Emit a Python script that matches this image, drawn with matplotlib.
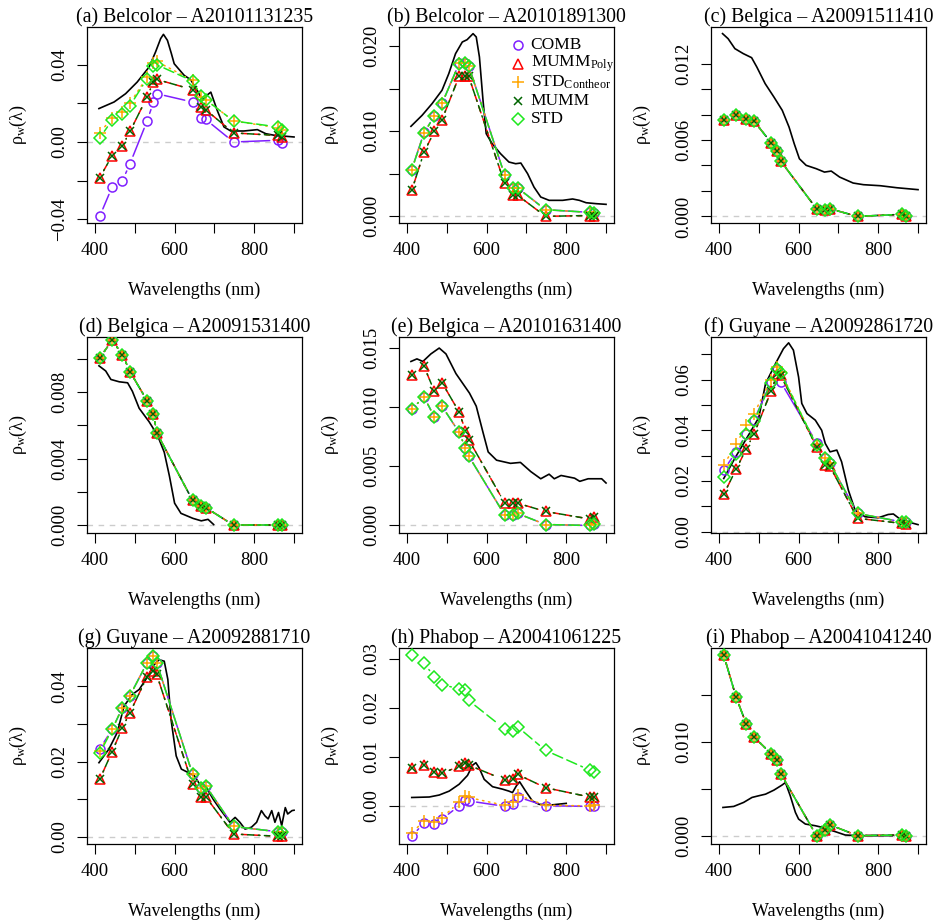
import numpy as np
import matplotlib
matplotlib.use("Agg")
import matplotlib.pyplot as plt
from matplotlib.collections import LineCollection

plt.rcParams['font.family'] = ['Liberation Serif', 'DejaVu Serif']
plt.rcParams['mathtext.fontset'] = 'custom'
plt.rcParams['mathtext.rm'] = 'Liberation Serif'
plt.rcParams['mathtext.it'] = 'Liberation Serif:italic'

# MODIS bands (nm)
wl = [412, 443, 469, 488, 531, 547, 555, 645, 667, 678, 748, 859, 869]

names = ["COMB", "MUMM$_{\\mathrm{Poly}}$", "STD$_{\\mathrm{Contheor}}$", "MUMM", "STD"]
titles = ["(a) Belcolor \u2013 A20101131235", "(b) Belcolor \u2013 A20101891300",
          "(c) Belgica \u2013 A20091511410", "(d) Belgica \u2013 A20091531400",
          "(e) Belgica \u2013 A20101631400", "(f) Guyane \u2013 A20092861720",
          "(g) Guyane \u2013 A20092881710", "(h) Phabop \u2013 A20041061225",
          "(i) Phabop \u2013 A20041041240"]

# (a)
a_comb = [-0.0384, -0.0233, -0.0200, -0.0112, 0.0109, 0.0207, 0.0250, 0.0207, 0.0126, 0.0117, 0.0000, 0.0009, -0.0005]
a_poly = [-0.0184, -0.0071, -0.0021, 0.0055, 0.0233, 0.0312, 0.0324, 0.0271, 0.0181, 0.0167, 0.0047, 0.0034, 0.0026]
a_cont = [0.0047, 0.0126, 0.0155, 0.0202, 0.0336, 0.0409, 0.0417, 0.0319, 0.0233, 0.0219, 0.0109, 0.0074, 0.0060]
a_mumm = [-0.0184, -0.0071, -0.0021, 0.0055, 0.0233, 0.0312, 0.0324, 0.0271, 0.0181, 0.0167, 0.0047, 0.0034, 0.0026]
a_std = [0.0022, 0.0112, 0.0147, 0.0188, 0.0328, 0.0391, 0.0400, 0.0316, 0.0236, 0.0219, 0.0109, 0.0078, 0.0064]
a_ins_x = [410, 448, 477, 506, 536, 552, 565, 572, 582, 592, 599, 624, 640, 657, 670, 680, 691, 707, 724, 741, 774, 808, 829, 850, 900]
a_ins_y = [0.0173, 0.0207, 0.0250, 0.0310, 0.0388, 0.0465, 0.0535, 0.0557, 0.0526, 0.0457, 0.0405, 0.0345, 0.0323, 0.0267,
           0.0216, 0.0240, 0.0258, 0.0164, 0.0078, 0.0057, 0.0057, 0.0064, 0.0043, 0.0035, 0.0026]

# (b)
b_comb = [0.00550, 0.00985, 0.01180, 0.01325, 0.01795, 0.01805, 0.01770, 0.00490, 0.00335, 0.00335, 0.00078, 0.00047, 0.00043]
b_poly = [0.00305, 0.00755, 0.00998, 0.01135, 0.01644, 0.01644, 0.01644, 0.00391, 0.00247, 0.00247, 0.00000, 0.00010, 0.00010]
b_cont = [0.00550, 0.00980, 0.01180, 0.01325, 0.01800, 0.01805, 0.01770, 0.00490, 0.00333, 0.00333, 0.00078, 0.00047, 0.00043]
b_mumm = [0.00305, 0.00755, 0.00998, 0.01135, 0.01644, 0.01644, 0.01644, 0.00391, 0.00247, 0.00247, 0.00000, 0.00010, 0.00010]
b_std = [0.00548, 0.00978, 0.01178, 0.01323, 0.01793, 0.01800, 0.01765, 0.00489, 0.00333, 0.00333, 0.00078, 0.00047, 0.00043]
b_ins_x = [410, 438, 463, 488, 505, 522, 539, 551, 566, 574, 582, 591, 599, 614, 635, 656, 673, 686, 703, 719, 736, 757,
           791, 816, 833, 850, 875, 900]
b_ins_y = [0.01057, 0.01186, 0.01323, 0.01480, 0.01675, 0.01910, 0.02047, 0.02074, 0.02145, 0.02106, 0.01871, 0.01362,
           0.00971, 0.00853, 0.00736, 0.00638, 0.00618, 0.00626, 0.00501, 0.00344, 0.00227, 0.00188, 0.00188, 0.00204,
           0.00188, 0.00160, 0.00149, 0.00141]

# (c) all five methods coincide
c_all = [0.00754, 0.00799, 0.00762, 0.00749, 0.00579, 0.00511, 0.00435, 0.00060, 0.00047, 0.00060, 0.00000, 0.00016, 0.00000]
c_ins_x = [409, 423, 440, 461, 482, 495, 516, 538, 559, 576, 589, 602, 619, 644, 665, 682, 703, 737, 763, 805, 847, 900]
c_ins_y = [0.01436, 0.01396, 0.01318, 0.01279, 0.01247, 0.01174, 0.01043, 0.00938, 0.00833, 0.00702, 0.00571, 0.00453,
           0.00401, 0.00375, 0.00348, 0.00356, 0.00309, 0.00262, 0.00249, 0.00241, 0.00225, 0.00210]

# (d) all five methods coincide
d_all = [0.01004, 0.01110, 0.01024, 0.00922, 0.00747, 0.00668, 0.00556, 0.00149, 0.00116, 0.00106, 0.00000, 0.00000, 0.00000]
d_ins_x = [410, 427, 440, 461, 482, 494, 511, 536, 557, 574, 587, 600, 616, 646, 667, 684, 698]
d_ins_y = [0.00957, 0.00926, 0.00875, 0.00861, 0.00855, 0.00804, 0.00702, 0.00621, 0.00540, 0.00438, 0.00295, 0.00132,
           0.00071, 0.00041, 0.00026, 0.00035, 0.00004]

# (e)
e_hi = [0.01275, 0.01344, 0.01131, 0.01206, 0.00956, 0.00797, 0.00722, 0.00186, 0.00181, 0.00181, 0.00111, 0.00047, 0.00061]
e_lo = [0.00983, 0.01083, 0.00914, 0.01006, 0.00783, 0.00650, 0.00583, 0.00083, 0.00083, 0.00094, 0.00000, -0.00008, 0.00006]
e_ins_x = [410, 425, 440, 460, 481, 498, 523, 557, 574, 591, 604, 625, 660, 685, 711, 736, 757, 770, 787, 821, 834, 855, 889, 900]
e_ins_y = [0.01386, 0.01408, 0.01386, 0.01450, 0.01500, 0.01450, 0.01283, 0.01117, 0.01006, 0.00783, 0.00617, 0.00547,
           0.00520, 0.00528, 0.00450, 0.00389, 0.00428, 0.00389, 0.00417, 0.00394, 0.00367, 0.00389, 0.00389, 0.00353]

# (f)
f_comb = [0.0243, 0.0315, 0.0387, 0.0440, 0.0591, 0.0643, 0.0591, 0.0351, 0.0291, 0.0272, 0.0072, 0.0039, 0.0037]
f_poly = [0.0148, 0.0246, 0.0328, 0.0385, 0.0555, 0.0624, 0.0617, 0.0335, 0.0265, 0.0260, 0.0053, 0.0033, 0.0030]
f_cont = [0.0263, 0.0345, 0.0420, 0.0466, 0.0600, 0.0650, 0.0630, 0.0341, 0.0289, 0.0272, 0.0072, 0.0039, 0.0037]
f_mumm = [0.0148, 0.0246, 0.0328, 0.0385, 0.0555, 0.0624, 0.0617, 0.0335, 0.0265, 0.0260, 0.0053, 0.0033, 0.0030]
f_std = [0.0217, 0.0306, 0.0387, 0.0436, 0.0588, 0.0643, 0.0626, 0.0341, 0.0289, 0.0272, 0.0072, 0.0039, 0.0039]
f_ins_x = [412, 440, 470, 500, 517, 542, 562, 575, 587, 600, 608, 621, 642, 658, 667, 679, 696, 708, 725, 742, 767, 800,
           825, 838, 858, 900]
f_ins_y = [0.0210, 0.0290, 0.0370, 0.0450, 0.0584, 0.0663, 0.0722, 0.0745, 0.0716, 0.0610, 0.0506, 0.0466, 0.0440, 0.0400,
           0.0348, 0.0315, 0.0322, 0.0276, 0.0164, 0.0085, 0.0059, 0.0055, 0.0068, 0.0070, 0.0046, 0.0028]

# (g)
g_comb = [0.0234, 0.0285, 0.0343, 0.0375, 0.0462, 0.0481, 0.0462, 0.0167, 0.0131, 0.0136, 0.0028, 0.0014, 0.0014]
g_poly = [0.0153, 0.0226, 0.0290, 0.0330, 0.0425, 0.0440, 0.0431, 0.0140, 0.0107, 0.0107, 0.0008, 0.0002, 0.0004]
g_cont = [0.0228, 0.0285, 0.0343, 0.0375, 0.0462, 0.0481, 0.0462, 0.0167, 0.0131, 0.0136, 0.0028, 0.0014, 0.0014]
g_mumm = [0.0153, 0.0226, 0.0290, 0.0330, 0.0425, 0.0440, 0.0431, 0.0140, 0.0107, 0.0107, 0.0008, 0.0002, 0.0004]
g_std = [0.0222, 0.0285, 0.0343, 0.0375, 0.0462, 0.0481, 0.0462, 0.0167, 0.0131, 0.0136, 0.0028, 0.0014, 0.0014]
g_ins_x = [410, 435, 456, 473, 494, 511, 528, 549, 561, 574, 583, 591, 604, 617, 634, 650, 663, 680, 697, 714, 739, 752,
           764, 777, 793, 806, 818, 827, 835, 844, 852, 861, 869, 878, 884, 895, 900]
g_ins_y = [0.0197, 0.0233, 0.0277, 0.0347, 0.0378, 0.0391, 0.0418, 0.0457, 0.0470, 0.0466, 0.0418, 0.0312, 0.0215, 0.0180,
           0.0171, 0.0162, 0.0140, 0.0131, 0.0100, 0.0074, 0.0039, 0.0052, 0.0039, 0.0021, 0.0026, 0.0039, 0.0070, 0.0056,
           0.0048, 0.0070, 0.0039, 0.0065, 0.0030, 0.0078, 0.0061, 0.0070, 0.0071]

# (h)
h_comb = [-0.0062, -0.0035, -0.0037, -0.0027, 0.0000, 0.0012, 0.0010, -0.0001, 0.0003, 0.0018, 0.0000, -0.0001, 0.0000]
h_poly = [0.0078, 0.0084, 0.0068, 0.0066, 0.0081, 0.0087, 0.0083, 0.0053, 0.0054, 0.0064, 0.0037, 0.0018, 0.0018]
h_cont = [-0.0056, -0.0030, -0.0034, -0.0024, 0.0007, 0.0020, 0.0017, 0.0001, 0.0008, 0.0022, 0.0001, 0.0000, 0.0001]
h_mumm = [0.0078, 0.0084, 0.0068, 0.0066, 0.0081, 0.0087, 0.0083, 0.0053, 0.0054, 0.0064, 0.0037, 0.0018, 0.0018]
h_std = [0.0307, 0.0291, 0.0263, 0.0247, 0.0239, 0.0236, 0.0215, 0.0157, 0.0152, 0.0161, 0.0113, 0.0073, 0.0068]
h_ins_x = [412, 456, 481, 506, 531, 552, 565, 573, 581, 594, 615, 640, 656, 665, 675, 683, 698, 715, 732, 765, 800]
h_ins_y = [0.0017, 0.0018, 0.0022, 0.0030, 0.0044, 0.0062, 0.0083, 0.0088, 0.0078, 0.0054, 0.0039, 0.0034, 0.0030, 0.0027,
           0.0041, 0.0049, 0.0030, 0.0010, 0.0003, 0.0002, 0.0005]

# (i) all five methods coincide
i_all = [0.01926, 0.01479, 0.01188, 0.01053, 0.00876, 0.00805, 0.00663, 0.00000, 0.00060, 0.00117, 0.00000, 0.00007, -0.00007]
i_ins_x = [410, 437, 462, 483, 500, 517, 538, 558, 567, 579, 592, 600, 617, 642, 659, 676, 692, 717, 750, 800, 835]
i_ins_y = [0.00301, 0.00312, 0.00355, 0.00408, 0.00426, 0.00443, 0.00486, 0.00539, 0.00567, 0.00426, 0.00248, 0.00177,
           0.00124, 0.00106, 0.00089, 0.00064, 0.00043, 0.00007, 0.00000, 0.00000, 0.00000]

series = [
    [a_comb, a_poly, a_cont, a_mumm, a_std],
    [b_comb, b_poly, b_cont, b_mumm, b_std],
    [c_all, c_all, c_all, c_all, c_all],
    [d_all, d_all, d_all, d_all, d_all],
    [e_lo, e_hi, e_lo, e_hi, e_lo],
    [f_comb, f_poly, f_cont, f_mumm, f_std],
    [g_comb, g_poly, g_cont, g_mumm, g_std],
    [h_comb, h_poly, h_cont, h_mumm, h_std],
    [i_all, i_all, i_all, i_all, i_all],
]
insitu = [(a_ins_x, a_ins_y), (b_ins_x, b_ins_y), (c_ins_x, c_ins_y), (d_ins_x, d_ins_y), (e_ins_x, e_ins_y),
          (f_ins_x, f_ins_y), (g_ins_x, g_ins_y), (h_ins_x, h_ins_y), (i_ins_x, i_ins_y)]

ylims = [(-0.0419, 0.0595), (-0.00078, 0.02223), (-0.00052, 0.01488), (-0.00047, 0.0113), (-0.00072, 0.01594),
         (-0.0005, 0.0768), (-0.00185, 0.0501), (-0.00779, 0.0322), (-0.00089, 0.02003)]
yticks = [
    ([-0.04, -0.02, 0, 0.02, 0.04], ["\u22120.04", "", "0.00", "", "0.04"]),
    ([0, 0.005, 0.01, 0.015, 0.02], ["0.000", "", "0.010", "", "0.020"]),
    ([0, 0.002, 0.004, 0.006, 0.008, 0.010, 0.012], ["0.000", "", "", "0.006", "", "", "0.012"]),
    ([0, 0.002, 0.004, 0.006, 0.008, 0.010], ["0.000", "", "0.004", "", "0.008", ""]),
    ([0, 0.005, 0.01, 0.015], ["0.000", "0.005", "0.010", "0.015"]),
    ([0, 0.01, 0.02, 0.03, 0.04, 0.05, 0.06, 0.07], ["0.00", "", "0.02", "", "0.04", "", "0.06", ""]),
    ([0, 0.01, 0.02, 0.03, 0.04], ["0.00", "", "0.02", "", "0.04"]),
    ([0, 0.01, 0.02, 0.03], ["0.00", "0.01", "0.02", "0.03"]),
    ([0, 0.005, 0.01, 0.015], ["0.000", "", "0.010", ""]),
]

colors = ["#7F1FFF", "#FF0000", "#FFA500", "#006400", "#1EE81E"]
markers = ["o", "^", "+", "x", "D"]
msizes = [6.5, 7.0, 8.0, 6.0, 6.0]
dashes = ["solid", (0, (4, 4)), (0, (1, 3)), (0, (1, 3, 4, 3)), (0, (7, 3))]
LW = 1.1
GAP = 8.0  # px gap around points, like R type="b"


def gapped(ax, x, y, gap):
    pts = ax.transData.transform(np.column_stack([x, y]))
    inv = ax.transData.inverted()
    segs = []
    for p0, p1 in zip(pts[:-1], pts[1:]):
        d = p1 - p0
        n = np.hypot(d[0], d[1])
        if n <= 2 * gap:
            continue
        u = d / n
        segs.append(inv.transform(np.array([p0 + u * gap, p1 - u * gap])))
    return segs


W, H = 936, 922
fig = plt.figure(figsize=(W / 100, H / 100), dpi=100)
lefts = [87, 399, 711]
tops = [27, 337, 648]
bw, bh = 215, 196

for k in range(9):
    r, c = divmod(k, 3)
    ax = fig.add_axes([lefts[c] / W, 1 - (tops[r] + bh) / H, bw / W, bh / H])
    ax.set_xlim(380, 920)
    ax.set_ylim(*ylims[k])
    ax.axhline(0, color="#CCCCCC", lw=1.0, ls=(0, (4, 4)), zorder=1)
    ax.plot(insitu[k][0], insitu[k][1], color="black", lw=1.2, zorder=2)
    for j in range(5):
        vals = series[k][j]
        lc = LineCollection(gapped(ax, wl, vals, GAP), colors=colors[j], linewidths=LW,
                            linestyles=dashes[j], capstyle="round", zorder=3 + j)
        ax.add_collection(lc)
        ax.plot(wl, vals, ls="none", marker=markers[j], ms=msizes[j], mfc="none",
                mec=colors[j], mew=1.1, zorder=3 + j)
    ax.set_xticks([400, 500, 600, 700, 800, 900])
    ax.set_xticklabels(["400", "", "600", "", "800", ""])
    ax.set_yticks(yticks[k][0])
    ax.set_yticklabels(yticks[k][1])
    ax.tick_params(direction="out", length=7, width=0.8, labelsize=13.5, pad=6.5)
    plt.setp(ax.get_yticklabels(), rotation=90, va="center")
    for sp in ax.spines.values():
        sp.set_linewidth(0.9)
    ax.set_title(titles[k], fontsize=14.3, pad=3)
    ax.set_xlabel("Wavelengths (nm)", fontsize=13)
    ax.xaxis.label.set_va("center")
    ax.xaxis.set_label_coords(0.5, -67 / bh)
    ax.set_ylabel("\u03c1$_{\\mathrm{w}}$(\u03bb)", fontsize=13)
    ax.yaxis.label.set_va("center")
    ax.yaxis.set_label_coords(-69 / bw, 0.5)

    if k == 1:
        for j in range(5):
            y = 1 - (45 - tops[0]) / bh - j * 18.6 / bh
            ax.plot([0.553], [y], transform=ax.transAxes, ls="none", marker=markers[j], ms=msizes[j],
                    mfc="none", mec=colors[j], mew=1.1, clip_on=False, zorder=10)
            ax.text(0.612, y, names[j], transform=ax.transAxes, fontsize=12.5, va="center", ha="left")

fig.savefig("out.png", dpi=100)
